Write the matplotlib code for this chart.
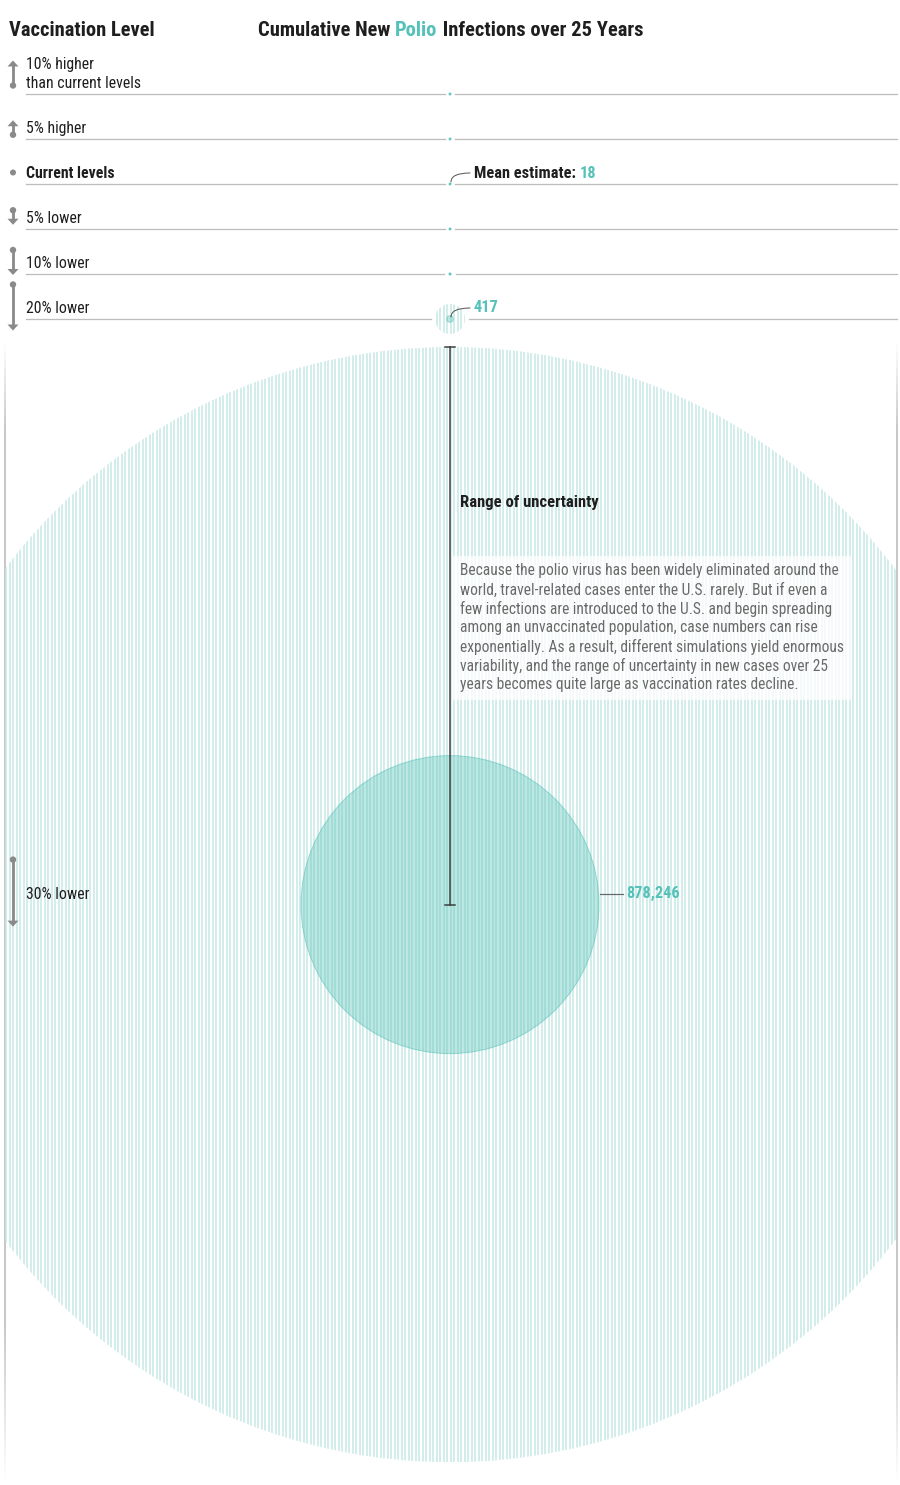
import numpy as np
import matplotlib
matplotlib.use('Agg')
import matplotlib.pyplot as plt
from matplotlib.patches import Circle, Rectangle, Polygon
from matplotlib.collections import LineCollection
from matplotlib import font_manager

# data
levels = ['10% higher\nthan current levels', '5% higher', 'Current levels',
          '5% lower', '10% lower', '20% lower', '30% lower']
change_pct = [10, 5, 0, -5, -10, -20, -30]
mean_cases = [14, 16, 18, 21, 27, 417, 878246]
upper_cases = [40, 45, 50, 60, 90, 8900, 12300000]
labelled = [2, 5, 6]

title_left = 'Vaccination Level'
title_parts = [('Cumulative New ', 'k'), ('Polio', 't'), (' Infections over 25 Years', 'k')]
range_title = 'Range of uncertainty'
range_note = ['Because the polio virus has been widely eliminated around the',
              'world, travel-related cases enter the U.S. rarely. But if even a',
              'few infections are introduced to the U.S. and begin spreading',
              'among an unvaccinated population, case numbers can rise',
              'exponentially. As a result, different simulations yield enormous',
              'variability, and the range of uncertainty in new cases over 25',
              'years becomes quite large as vaccination rates decline.']

TEAL = '#55c1b8'
HATCH = '#c4e8e4'
RULE = '#bdbdbd'
ICON = '#8a8a8a'
INK = '#1e1e1e'
BODY = '#6a6a6a'


def pick_font():
    for name in ['Liberation Sans Narrow', 'Roboto Condensed', 'Roboto']:
        try:
            font_manager.findfont(name, fallback_to_default=False)
            return name
        except ValueError:
            pass
    return 'DejaVu Sans'


plt.rcParams['font.family'] = [pick_font(), 'DejaVu Sans']

fig = plt.figure(figsize=(9, 14.85), dpi=100)
ax = fig.add_axes([0, 0, 1, 1])
ax.set_xlim(0, 900)
ax.set_ylim(1485, 0)
ax.axis('off')
renderer = fig.canvas.get_renderer()

PX = 0.72  # points per pixel
cx = 450
clip_l, clip_r = 5, 897
k = 149 / np.sqrt(878246)  # px per sqrt(case)

r_mean = [max(k * np.sqrt(v), 1.1) for v in mean_cases]
r_up = [k * np.sqrt(v) for v in upper_cases]

# stack rows
row_y = [94]
for i in range(1, len(levels)):
    row_y.append(row_y[-1] + max(45, r_up[i - 1] + r_up[i] + 13))


def width_of(s, **kw):
    # measure with a guard glyph so trailing spaces count
    a = ax.text(0, 0, s + 'I', **kw)
    b = ax.text(0, 0, 'I', **kw)
    w = a.get_window_extent(renderer).width - b.get_window_extent(renderer).width
    a.remove()
    b.remove()
    return w


def pieces(x, y, parts, **kw):
    prefix = ''
    for s, c in parts:
        ax.text(x + width_of(prefix, **kw), y, s, color=TEAL if c == 't' else INK, **kw)
        prefix += s


# titles
ax.text(9, 30, title_left, fontsize=14.8, fontweight='bold', color=INK, va='center')
pieces(258, 30, title_parts, fontsize=14.8, fontweight='bold', va='center')

# edge lines framing the clipped range circle
ys = np.arange(340, 1480, 4)
alpha = np.clip(np.minimum((ys - 340) / 90, (1480 - ys) / 160), 0, 1) * 0.55
for ex in (clip_l, clip_r):
    segs = [[(ex, a), (ex, a + 4)] for a in ys]
    cols = [(0.6, 0.6, 0.6, al) for al in alpha]
    ax.add_collection(LineCollection(segs, colors=cols, linewidths=2 * PX, zorder=1))

for i, lab in enumerate(levels):
    y = row_y[i]
    ru, rm = r_up[i], r_mean[i]

    # hatched range circle
    clip = Circle((cx, y), ru, fc='none', ec='none')
    ax.add_patch(clip)
    xs = np.arange(clip_l + 1, clip_r, 3.5)
    hatch = ax.vlines(xs, y - ru, y + ru, colors=HATCH, lw=1.5 * PX, zorder=2)
    hatch.set_clip_path(clip)

    # mean circle
    ax.add_patch(Circle((cx, y), rm, fc=TEAL, alpha=0.38 if rm > 2 else 0.9,
                        ec='none', zorder=3))
    ax.add_patch(Circle((cx, y), rm, fc='none', ec=TEAL, alpha=0.55,
                        lw=1 * PX, zorder=3))

    # row rule
    if ru < 45:
        gap = max(ru, rm) + 4
        ax.plot([26, cx - gap], [y, y], color=RULE, lw=1.3 * PX, zorder=1)
        ax.plot([cx + gap, clip_r], [y, y], color=RULE, lw=1.3 * PX, zorder=1)

    # label
    lines = lab.split('\n')
    base = y - 6
    lh = 19
    for j, ln in enumerate(lines):
        ax.text(26, base - (len(lines) - 1 - j) * lh, ln, fontsize=11.3,
                fontweight='bold' if change_pct[i] == 0 else 'normal',
                color=INK, va='baseline', zorder=5)

    # icon
    mid = base - 5.5 - (len(lines) - 1) * lh / 2
    p = change_pct[i]
    if p == 0:
        ax.add_patch(Circle((13, mid), 3, fc=ICON, ec='none', zorder=5))
    else:
        L = 4 + 2.1 * abs(p)
        d = -1 if p > 0 else 1
        y_dot = mid - d * L / 2
        y_tip = mid + d * L / 2
        ax.plot([13, 13], [y_dot, y_tip - d * 4], color=ICON, lw=2.8 * PX,
                solid_capstyle='butt', zorder=5)
        ax.add_patch(Circle((13, y_dot), 3.2, fc=ICON, ec='none', zorder=5))
        ax.add_patch(Polygon([(7.5, y_tip - d * 6), (18.5, y_tip - d * 6), (13, y_tip)],
                             closed=True, fc=ICON, ec='none', zorder=5))

    # value labels
    if i in labelled:
        val = f'{mean_cases[i]:,}'
        if ru < 100:
            tx, ty = cx + 24, y - 11
            ax.annotate('', xy=(cx + 1, y - 2), xytext=(tx - 4, ty),
                        arrowprops=dict(arrowstyle='-', color='#555555', lw=1 * PX,
                                        connectionstyle='angle3,angleA=0,angleB=90',
                                        shrinkA=0, shrinkB=0), zorder=6)
            parts = [('Mean estimate: ', 'k'), (val, 't')] if change_pct[i] == 0 else [(val, 't')]
            pieces(tx, ty, parts, fontsize=11.8, fontweight='bold', va='center', zorder=6)
        else:
            ty = y - 11
            ax.plot([cx + rm + 1, cx + rm + 24], [ty, ty], color='#666666', lw=1.2 * PX, zorder=6)
            ax.text(cx + rm + 27, ty, val, fontsize=11.8, fontweight='bold',
                    color=TEAL, va='center', zorder=6)

# range of uncertainty marker on the largest circle
yb = row_y[-1]
top = yb - r_up[-1]
ax.plot([cx, cx], [top, yb], color='#3c3c3c', lw=1.5 * PX, zorder=6)
for yy in (top, yb):
    ax.plot([cx - 5, cx + 5], [yy, yy], color='#3c3c3c', lw=1.5 * PX, zorder=6)

ax.text(cx + 10, top + 156, range_title, fontsize=12, fontweight='bold',
        color=INK, va='center', zorder=6)
ax.add_patch(Rectangle((cx + 2, top + 209), 400, 144, fc='white', alpha=0.75,
                       ec='none', zorder=5))
for j, ln in enumerate(range_note):
    ax.text(cx + 10, top + 224 + j * 19, ln, fontsize=11.2, color=BODY,
            va='center', zorder=6)

fig.savefig('out.png', dpi=100)
